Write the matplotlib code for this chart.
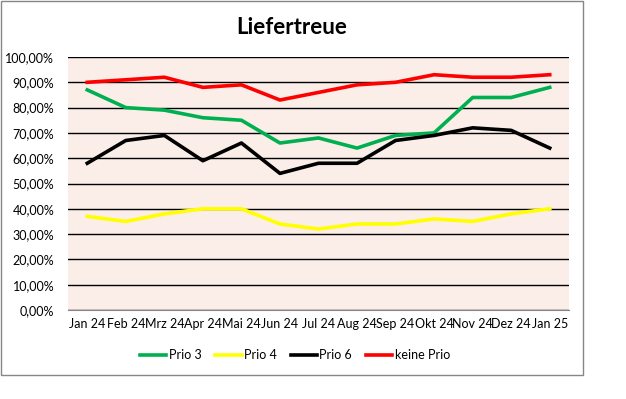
import numpy as np
import matplotlib.pyplot as plt
from matplotlib.patches import Rectangle
from matplotlib.ticker import FuncFormatter

plt.rcParams['font.family'] = ['Lato', 'DejaVu Sans']

months = ['Jan 24', 'Feb 24', 'Mrz 24', 'Apr 24', 'Mai 24', 'Jun 24', 'Jul 24',
          'Aug 24', 'Sep 24', 'Okt 24', 'Nov 24', 'Dez 24', 'Jan 25']
prio3 = [87, 80, 79, 76, 75, 66, 68, 64, 69, 70, 84, 84, 88]
prio4 = [37, 35, 38, 40, 40, 34, 32, 34, 34, 36, 35, 38, 40]
prio6 = [58, 67, 69, 59, 66, 54, 58, 58, 67, 69, 72, 71, 64]
keine = [90, 91, 92, 88, 89, 83, 86, 89, 90, 93, 92, 92, 93]

series = [('Prio 3', prio3, '#00B050'),
          ('Prio 4', prio4, '#FFFF00'),
          ('Prio 6', prio6, '#000000'),
          ('keine Prio', keine, '#FF0000')]

fig = plt.figure(figsize=(6.26, 3.99), dpi=100)
# chart border
fig.patches.append(Rectangle((1/626, 1 - 375/399), 582/626, 374/399,
                             transform=fig.transFigure, fill=False,
                             edgecolor='#868686', linewidth=1))

ax = fig.add_axes([68/626, 1 - 310/399, 501/626, 253/399])
ax.set_facecolor('#FBEEE8')

x = np.arange(len(months))
for name, vals, col in series:
    ax.plot(x, np.array(vals) / 100, color=col, linewidth=2.6, label=name,
            solid_joinstyle='round')

ax.set_xlim(-0.5, len(months) - 0.5)
ax.set_ylim(0, 1)
ax.set_yticks(np.arange(0, 1.01, 0.1))
ax.yaxis.set_major_formatter(FuncFormatter(lambda v, p: f'{v*100:.2f}%'.replace('.', ',')))
ax.set_xticks(x)
ax.set_xticklabels(months)
ax.grid(axis='y', color='black', linewidth=1)
ax.set_axisbelow(True)
ax.tick_params(length=0, labelsize=9, pad=6)
ax.tick_params(axis='y', pad=10)
for s in ['top', 'right', 'left']:
    ax.spines[s].set_visible(False)
ax.spines['bottom'].set_color('#868686')

fig.text(292/626, 1 - 27/399, 'Liefertreue', ha='center', va='center',
         fontsize=16, fontweight='bold')

fig.legend(loc='center', bbox_to_anchor=(295/626, 1 - 355/399), ncol=4,
           frameon=False, fontsize=9, handlelength=2.1, columnspacing=1.1,
           handletextpad=0.2)

fig.savefig('out.png', dpi=100)
